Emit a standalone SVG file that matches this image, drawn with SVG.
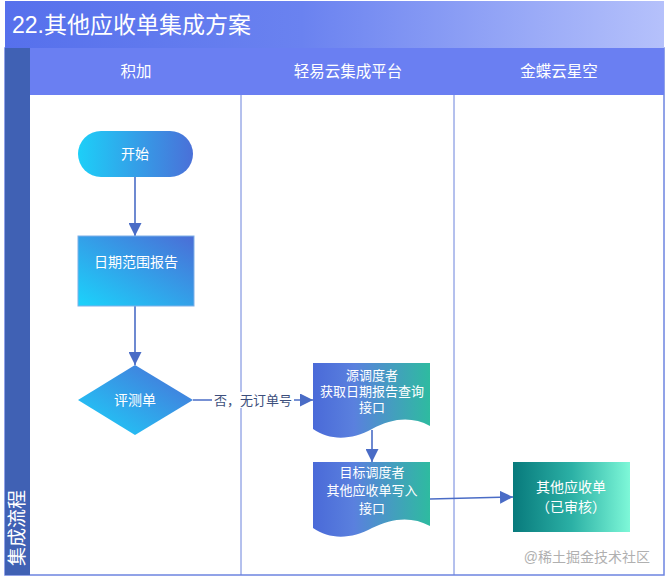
<svg xmlns="http://www.w3.org/2000/svg" width="667" height="582" viewBox="0 0 667 582">
<style>
text{font-family:"Liberation Sans","Noto Sans CJK SC",sans-serif;}
.w{fill:#ffffff;}
.lane{fill:#ffffff;font-size:15.5px;text-anchor:middle;}
.nt{fill:#ffffff;font-size:13px;text-anchor:middle;}
.div{stroke:#6a82dc;stroke-width:1;fill:none;}
.edge{stroke:#4a6cc6;stroke-width:1.6;fill:none;}
</style>
<defs>
<linearGradient id="gTitle" x1="0" y1="0" x2="1" y2="0">
<stop offset="0" stop-color="#5670ec"/><stop offset="0.45" stop-color="#6a82f0"/><stop offset="1" stop-color="#b5c1fb"/>
</linearGradient>
<linearGradient id="gPill" x1="0" y1="0.5" x2="1" y2="0.5">
<stop offset="0" stop-color="#1dcff8"/><stop offset="1" stop-color="#4a70d8"/>
</linearGradient>
<linearGradient id="gDiag" x1="0" y1="1" x2="1" y2="0">
<stop offset="0" stop-color="#1bd3fb"/><stop offset="1" stop-color="#4b6dd6"/>
</linearGradient>
<linearGradient id="gDoc" x1="0" y1="0.5" x2="1" y2="0.5">
<stop offset="0" stop-color="#4a6ad8"/><stop offset="0.35" stop-color="#5a80de"/><stop offset="1" stop-color="#2ebba0"/>
</linearGradient>
<linearGradient id="gEnd" x1="0" y1="0.5" x2="1" y2="0.5">
<stop offset="0" stop-color="#087a7c"/><stop offset="0.5" stop-color="#2bb0a5"/><stop offset="1" stop-color="#7ef8d8"/>
</linearGradient>
<marker id="arrB" viewBox="0 0 10 10" refX="10" refY="5" markerWidth="13" markerHeight="13" markerUnits="userSpaceOnUse" orient="auto">
<path d="M0,0 L10,5 L0,10 Z" fill="#4a6cc6"/>
</marker>
</defs>

<g id="frame">
<rect x="0" y="0" width="667" height="582" fill="#ffffff"/>
<rect x="5" y="48" width="659" height="527" fill="#ffffff" stroke="#6d84e0" stroke-width="1.5"/>
<rect x="5" y="1" width="659" height="47" fill="url(#gTitle)"/>
<text x="12" y="33" class="w" style="font-size:23px">22.其他应收单集成方案</text>
<rect x="30" y="48" width="634" height="47" fill="#6a7ff2"/>
<rect x="5" y="48" width="25" height="527" fill="#4061b4"/>
<text transform="translate(24,528) rotate(-90)" class="w" style="font-size:19px" text-anchor="middle">集成流程</text>
<line class="div" x1="241" y1="95" x2="241" y2="575"/>
<line class="div" x1="454" y1="95" x2="454" y2="575"/>
<text x="136" y="77" class="lane">积加</text>
<text x="348" y="77" class="lane">轻易云集成平台</text>
<text x="559" y="77" class="lane">金蝶云星空</text>
</g>

<g id="connectors">
<line class="edge" x1="135" y1="177" x2="135" y2="236" marker-end="url(#arrB)"/>
<line class="edge" x1="135" y1="306" x2="135" y2="365" marker-end="url(#arrB)"/>
<line class="edge" x1="193" y1="400" x2="313" y2="400" marker-end="url(#arrB)"/>
<rect x="212" y="392" width="82" height="16" fill="#ffffff"/>
<text x="253" y="405" style="font-size:13px;fill:#3d4f7c" text-anchor="middle">否，无订单号</text>
<line class="edge" x1="372" y1="430" x2="372" y2="462" marker-end="url(#arrB)"/>
<line class="edge" x1="430" y1="499" x2="513" y2="497" marker-end="url(#arrB)"/>
</g>

<g id="start">
<rect x="78" y="131" width="115" height="46" rx="23" fill="url(#gPill)"/>
<text x="135" y="159" class="nt" style="font-size:14px">开始</text>
</g>

<g id="report">
<rect x="78" y="236" width="116" height="70" fill="url(#gDiag)" stroke="#7fb0e8" stroke-width="1"/>
<text x="136" y="267" class="nt" style="font-size:14px">日期范围报告</text>
</g>

<g id="check">
<path d="M135,365 L193,400 L135,435 L78,400 Z" fill="url(#gDiag)"/>
<text x="135" y="405" class="nt" style="font-size:14px">评测单</text>
</g>

<g id="source">
<path d="M313,363 H430 V426 C412,416 392,418 372,429 C352,440 330,441 313,429 Z" fill="url(#gDoc)"/>
<text x="372" y="380" class="nt">源调度者</text>
<text x="372" y="396" class="nt">获取日期报告查询</text>
<text x="372" y="412" class="nt">接口</text>
</g>

<g id="target">
<path d="M313,462 H430 V526 C412,516 392,518 372,528 C352,539 330,540 313,528 Z" fill="url(#gDoc)"/>
<text x="372" y="477" class="nt">目标调度者</text>
<text x="372" y="495" class="nt">其他应收单写入</text>
<text x="372" y="513" class="nt">接口</text>
</g>

<g id="result">
<rect x="513" y="462" width="117" height="70" fill="url(#gEnd)"/>
<text x="571" y="492" class="nt" style="font-size:14px">其他应收单</text>
<text x="571" y="512" class="nt" style="font-size:14px">（已审核）</text>
</g>

<text x="650" y="562" style="font-size:14px;fill:#b0b0b0" text-anchor="end">@稀土掘金技术社区</text>
</svg>
